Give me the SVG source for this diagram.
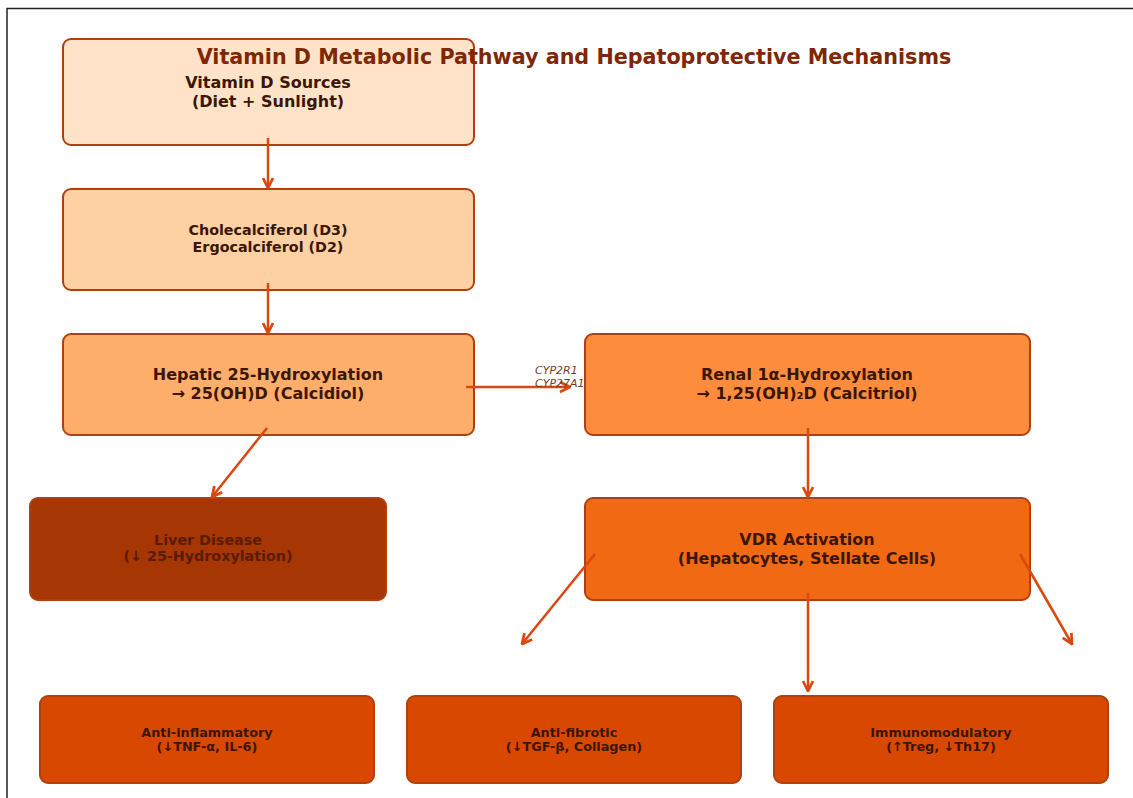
<svg xmlns="http://www.w3.org/2000/svg" width="1133" height="798" viewBox="0 0 1133 798">
<defs>
<style>
.box{stroke:#b0400f;stroke-width:2}
.t{font-family:"DejaVu Sans","Liberation Sans",sans-serif;font-weight:bold;text-anchor:middle;fill:#3b1605}
.t15{font-size:16px}
.t13{font-size:14.3px}
.t12{font-size:12.8px}
.conn{stroke:#d9480f;stroke-width:2.5;fill:none;marker-end:url(#ah)}
.lbl{font-family:"DejaVu Sans","Liberation Sans",sans-serif;font-style:italic;font-size:11px;fill:#7a3a2a}
</style>
<marker id="ah" viewBox="0 0 10 10" refX="9" refY="5" markerWidth="5" markerHeight="5" orient="auto" markerUnits="strokeWidth">
<path d="M1,1 L9,5 L1,9" fill="none" stroke="#d9480f" stroke-width="2.2" stroke-linejoin="miter"/>
</marker>
</defs>
<rect x="0" y="0" width="1133" height="798" fill="#ffffff"/>
<path d="M7,798 L7,8.5 L1133,8.5" fill="none" stroke="#222" stroke-width="1.5"/>

<g id="sources">
<rect class="box" x="63" y="39" width="411" height="106" rx="8" fill="#fee3c8"/>
<text class="t t15" x="268" y="88">Vitamin D Sources</text>
<text class="t t15" x="268" y="107">(Diet + Sunlight)</text>
</g>
<g id="chole">
<rect class="box" x="63" y="189" width="411" height="101" rx="8" fill="#fdd1a3"/>
<text class="t t13" x="268" y="235">Cholecalciferol (D3)</text>
<text class="t t13" x="268" y="252">Ergocalciferol (D2)</text>
</g>
<g id="hepatic">
<rect class="box" x="63" y="334" width="411" height="101" rx="8" fill="#fdae6b"/>
<text class="t t15" x="268" y="380">Hepatic 25-Hydroxylation</text>
<text class="t t15" x="268" y="399">→ 25(OH)D (Calcidiol)</text>
</g>
<g id="renal">
<rect class="box" x="585" y="334" width="445" height="101" rx="8" fill="#fd8d3c"/>
<text class="t t15" x="807" y="380">Renal 1α-Hydroxylation</text>
<text class="t t15" x="807" y="399">→ 1,25(OH)₂D (Calcitriol)</text>
</g>
<g id="liver">
<rect class="box" x="30" y="498" width="356" height="102" rx="8" fill="#a63603" stroke="#a63603"/>
<text class="t t13" x="208" y="545" style="fill:#5a1c04">Liver Disease</text>
<text class="t t13" x="208" y="561" style="fill:#5a1c04">(↓ 25-Hydroxylation)</text>
</g>
<g id="vdr">
<rect class="box" x="585" y="498" width="445" height="102" rx="8" fill="#f16913"/>
<text class="t t15" x="807" y="545">VDR Activation</text>
<text class="t t15" x="807" y="564">(Hepatocytes, Stellate Cells)</text>
</g>
<g id="antiinflam">
<rect class="box" x="40" y="696" width="334" height="87" rx="8" fill="#d94801"/>
<text class="t t12" x="207" y="737">Anti-inflammatory</text>
<text class="t t12" x="207" y="751">(↓TNF-α, IL-6)</text>
</g>
<g id="antifib">
<rect class="box" x="407" y="696" width="334" height="87" rx="8" fill="#d94801"/>
<text class="t t12" x="574" y="737">Anti-fibrotic</text>
<text class="t t12" x="574" y="751">(↓TGF-β, Collagen)</text>
</g>
<g id="immuno">
<rect class="box" x="774" y="696" width="334" height="87" rx="8" fill="#d94801"/>
<text class="t t12" x="941" y="737">Immunomodulatory</text>
<text class="t t12" x="941" y="751">(↑Treg, ↓Th17)</text>
</g>

<text x="574" y="64" font-family="DejaVu Sans, Liberation Sans, sans-serif" font-weight="bold" font-size="20.7" text-anchor="middle" fill="#7f2704">Vitamin D Metabolic Pathway and Hepatoprotective Mechanisms</text>

<g id="connectors">
<line class="conn" x1="268" y1="138" x2="268" y2="188"/>
<line class="conn" x1="268" y1="283" x2="268" y2="333"/>
<line class="conn" x1="466" y1="387" x2="570" y2="387"/>
<line class="conn" x1="267" y1="428" x2="212" y2="497"/>
<line class="conn" x1="808" y1="428" x2="808" y2="497"/>
<line class="conn" x1="595" y1="554" x2="522" y2="644"/>
<line class="conn" x1="808" y1="593" x2="808" y2="691"/>
<line class="conn" x1="1020" y1="554" x2="1072" y2="644"/>
<text class="lbl" x="535" y="374">CYP2R1</text>
<text class="lbl" x="535" y="387">CYP27A1</text>
</g>
</svg>
